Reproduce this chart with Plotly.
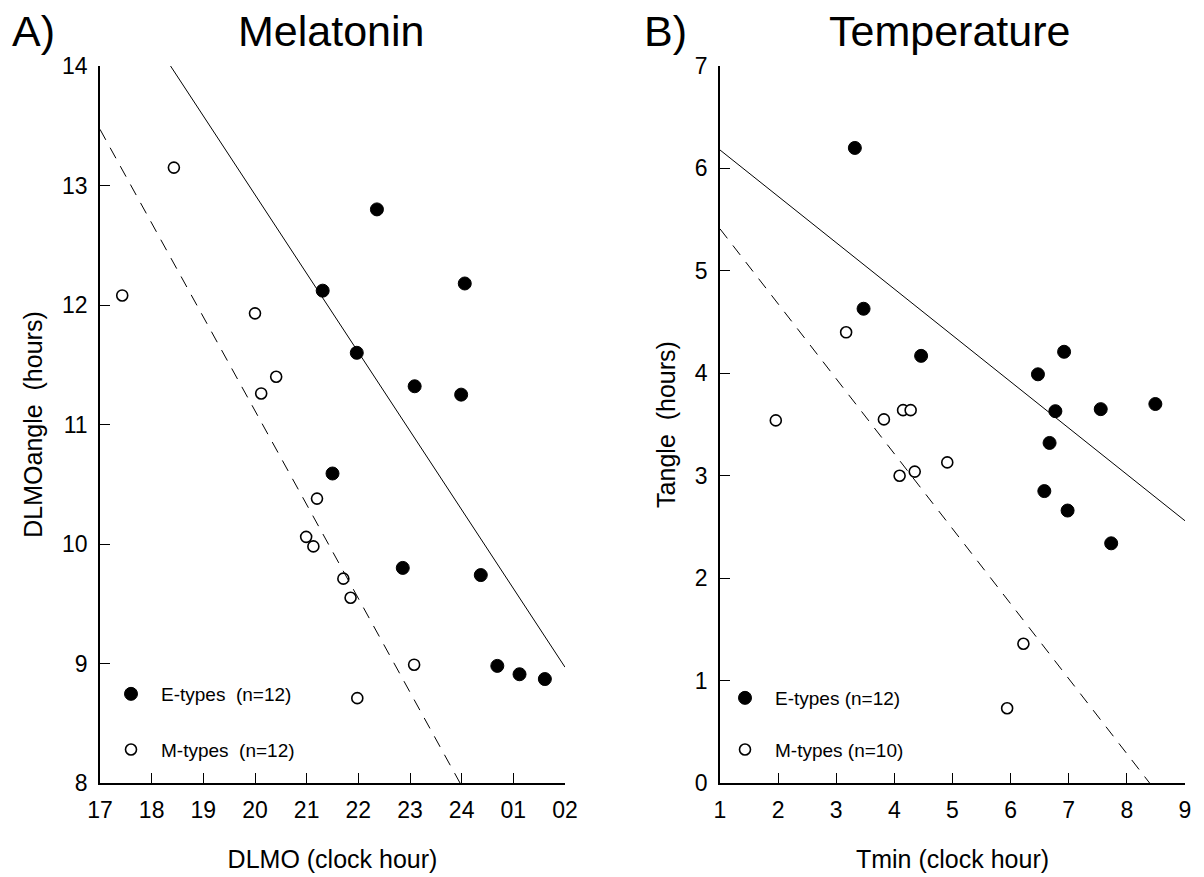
import plotly.graph_objects as go

# ---------------- data ----------------
# Panel A - Melatonin (DLMO in decimal clock hours, >24 = after midnight)
mel_e_dlmo = [22.36, 21.31, 24.06, 21.97, 23.09, 23.99, 21.50, 22.86, 24.37, 24.69, 25.12, 25.61]
mel_e_angle = [12.80, 12.12, 12.18, 11.60, 11.32, 11.25, 10.59, 9.80, 9.74, 8.98, 8.91, 8.87]
mel_m_dlmo = [18.43, 17.43, 20.00, 20.41, 20.12, 21.20, 20.99, 21.13, 21.71, 21.85, 23.08, 21.98]
mel_m_angle = [13.15, 12.08, 11.93, 11.40, 11.26, 10.38, 10.06, 9.98, 9.71, 9.55, 8.99, 8.71]

# Panel B - Temperature
temp_e_tmin = [3.32, 3.47, 4.46, 6.47, 6.92, 6.77, 7.55, 8.49, 6.67, 6.58, 6.98, 7.73]
temp_e_angle = [6.20, 4.63, 4.17, 3.99, 4.21, 3.63, 3.65, 3.70, 3.32, 2.85, 2.66, 2.34]
temp_m_tmin = [3.17, 1.96, 3.82, 4.15, 4.28, 4.09, 4.35, 4.91, 6.22, 5.94]
temp_m_angle = [4.40, 3.54, 3.55, 3.64, 3.64, 3.00, 3.04, 3.13, 1.36, 0.73]

# Regression fits: value at left end of axis range, slope (per hour)  [E, M]
mel_fit_start = [14.90, 13.47]
mel_fit_slope = [-0.659, -0.785]
temp_fit_start = [6.18, 5.41]
temp_fit_slope = [-0.4525, -0.732]

mel_xrange = [17, 26]
mel_yrange = [8, 14]
temp_xrange = [1, 9]
temp_yrange = [0, 7]

mel_tickvals = list(range(17, 27))
mel_ticktext = ["17", "18", "19", "20", "21", "22", "23", "24", "01", "02"]

labels_a = ["E-types\u00a0\u00a0(n=12)", "M-types\u00a0\u00a0(n=12)"]
labels_b = ["E-types\u00a0(n=12)", "M-types\u00a0(n=10)"]

# ---------------- figure ----------------
FONT = "Liberation Sans, Arial, sans-serif"
W, H = 1204, 877
ML, MR, MT, MB = 100, 19, 66, 94
PW, PH = W - ML - MR, H - MT - MB


def px(x):
    return (x - ML) / PW


def py(y):
    return (H - MB - y) / PH


fig = go.Figure()

filled = dict(color="black", size=13, line=dict(color="black", width=1))
hollow = dict(color="white", size=11, line=dict(color="black", width=1.6))

fig.add_trace(go.Scatter(x=mel_e_dlmo, y=mel_e_angle, mode="markers", marker=filled,
                         name=labels_a[0], legend="legend", legendgroup="ae",
                         xaxis="x", yaxis="y"))
fig.add_trace(go.Scatter(x=mel_m_dlmo, y=mel_m_angle, mode="markers", marker=hollow,
                         name=labels_a[1], legend="legend", legendgroup="am",
                         xaxis="x", yaxis="y"))
fig.add_trace(go.Scatter(x=temp_e_tmin, y=temp_e_angle, mode="markers", marker=filled,
                         name=labels_b[0], legend="legend2", legendgroup="be",
                         xaxis="x2", yaxis="y2"))
fig.add_trace(go.Scatter(x=temp_m_tmin, y=temp_m_angle, mode="markers", marker=hollow,
                         name=labels_b[1], legend="legend2", legendgroup="bm",
                         xaxis="x2", yaxis="y2"))

dashes = ["solid", "12px,9px"]
for i in range(2):
    xs = mel_xrange
    ys = [mel_fit_start[i], mel_fit_start[i] + mel_fit_slope[i] * (xs[1] - xs[0])]
    fig.add_trace(go.Scatter(x=xs, y=ys, mode="lines", showlegend=False,
                             line=dict(color="black", width=1, dash=dashes[i]),
                             xaxis="x", yaxis="y", hoverinfo="skip"))
    xs = temp_xrange
    ys = [temp_fit_start[i], temp_fit_start[i] + temp_fit_slope[i] * (xs[1] - xs[0])]
    fig.add_trace(go.Scatter(x=xs, y=ys, mode="lines", showlegend=False,
                             line=dict(color="black", width=1, dash=dashes[i]),
                             xaxis="x2", yaxis="y2", hoverinfo="skip"))

axis_common = dict(showline=True, linecolor="black", linewidth=1.6, ticks="inside",
                   ticklen=10, tickwidth=1.4, tickcolor="black", showgrid=False,
                   zeroline=False, tickfont=dict(family=FONT, size=23, color="black"),
                   fixedrange=True)

fig.update_layout(
    width=W, height=H,
    margin=dict(l=ML, r=MR, t=MT, b=MB, autoexpand=False),
    paper_bgcolor="white", plot_bgcolor="white",
    font=dict(family=FONT, color="black"),
    xaxis=dict(axis_common, domain=[0, px(565)], range=mel_xrange, tickvals=mel_tickvals,
               ticktext=mel_ticktext, anchor="y", ticklabelstandoff=6,
               title=dict(text="DLMO (clock hour)", font=dict(size=25), standoff=28)),
    yaxis=dict(axis_common, domain=[0, 1], range=mel_yrange, dtick=1, anchor="x",
               ticklabelstandoff=6,
               title=dict(text="DLMOangle\u00a0\u00a0(hours)", font=dict(size=25), standoff=12)),
    xaxis2=dict(axis_common, domain=[px(720), 1], range=temp_xrange, dtick=1, anchor="y2",
                ticklabelstandoff=6,
                title=dict(text="Tmin (clock hour)", font=dict(size=25), standoff=28)),
    yaxis2=dict(axis_common, domain=[0, 1], range=temp_yrange, dtick=1, anchor="x2",
                ticklabelstandoff=6,
                title=dict(text="Tangle\u00a0\u00a0(hours)", font=dict(size=25), standoff=12)),
    legend=dict(x=px(101), y=py(675), xanchor="left", yanchor="top", itemwidth=50,
                tracegroupgap=28, font=dict(family=FONT, size=19), bgcolor="rgba(0,0,0,0)"),
    legend2=dict(x=px(715), y=py(679), xanchor="left", yanchor="top", itemwidth=50,
                 tracegroupgap=24, font=dict(family=FONT, size=19), bgcolor="rgba(0,0,0,0)"),
    showlegend=True,
)

titles = [("A)", 10, "left"), ("Melatonin", 331, "center"),
          ("B)", 642, "left"), ("Temperature", 949, "center")]
for text, x, anchor in titles:
    fig.add_annotation(text=text, x=px(x), y=py(31), xref="paper", yref="paper",
                       xanchor=anchor, yanchor="middle", showarrow=False,
                       font=dict(family=FONT, size=43, color="black"))

fig.write_html("out.html")
